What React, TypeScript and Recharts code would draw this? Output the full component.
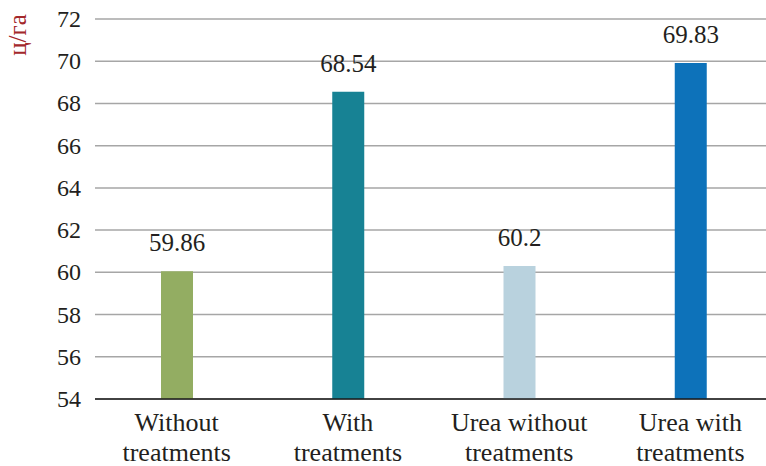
import React from 'react';
import { BarChart, Bar, XAxis, YAxis, CartesianGrid, Cell, LabelList } from 'recharts';

const categories = ['Without treatments', 'With treatments', 'Urea without treatments', 'Urea with treatments'];
const barValues = [60.05, 68.55, 60.3, 69.92];
const valueLabels = ['59.86', '68.54', '60.2', '69.83'];
const barColors = ['#93ad62', '#178294', '#b9d2de', '#0d72ba'];
const yTicks = [54, 56, 58, 60, 62, 64, 66, 68, 70, 72];
const yUnit = 'ц/га';

const data = categories.map((name, i) => ({ name, value: barValues[i], label: valueLabels[i] }));

const FONT = "'Liberation Serif', 'Times New Roman', serif";
const TEXT = '#231f20';

const CategoryTick = (props: any) => {
  const { x, y, payload } = props;
  const s: string = payload.value;
  const idx = s.lastIndexOf(' ');
  const lines = [s.slice(0, idx), s.slice(idx + 1)];
  return (
    <text x={x} y={y} textAnchor="middle" fill={TEXT} fontFamily={FONT} fontSize={26} style={{ fontFamily: FONT }}>
      {lines.map((l, i) => (
        <tspan key={i} x={x} y={y + 24 + i * 30}>{l}</tspan>
      ))}
    </text>
  );
};

const ValueTick = (props: any) => {
  const { x, y, payload } = props;
  return (
    <text x={x - 2} y={y + 8} textAnchor="end" fill={TEXT} fontFamily={FONT} fontSize={24} style={{ fontFamily: FONT }}>
      {payload.value}
    </text>
  );
};

const BarLabel = (props: any) => {
  const { x, y, width, value } = props;
  return (
    <text x={Number(x) + Number(width) / 2} y={Number(y) - 20} textAnchor="middle" fill={TEXT} fontFamily={FONT} fontSize={25} style={{ fontFamily: FONT }}>
      {value}
    </text>
  );
};

const UnitLabel = () => (
  <text
    x={26}
    y={35}
    transform="rotate(-90, 26, 35)"
    textAnchor="middle"
    fill="#a3282b"
    fontFamily={FONT}
    fontSize={25}
    style={{ fontFamily: FONT }}
  >
    {yUnit}
  </text>
);

export default function App() {
  return (
    <div style={{ position: 'fixed', left: 0, top: 0, width: 766, height: 466, overflow: 'hidden', background: '#fff', fontFamily: FONT }}>
      <BarChart
        width={780}
        height={466}
        data={data}
        margin={{ top: 19, right: 4, bottom: 0, left: 0 }}
        style={{ fontFamily: FONT }}
      >
        <CartesianGrid vertical={false} stroke="#a6a6a6" strokeWidth={1.5} />
        <XAxis
          dataKey="name"
          height={67}
          axisLine={{ stroke: '#1a1a1a', strokeWidth: 1.5 }}
          tickLine={false}
          tick={<CategoryTick />}
          interval={0}
          padding={{ left: -4, right: 0 }}
        />
        <YAxis
          width={95}
          domain={[54, 72]}
          ticks={yTicks}
          allowDataOverflow
          axisLine={false}
          tickLine={false}
          tickMargin={6}
          tick={<ValueTick />}
          label={<UnitLabel />}
        />
        <Bar dataKey="value" barSize={32} isAnimationActive={false}>
          {data.map((d, i) => (
            <Cell key={i} fill={barColors[i]} />
          ))}
          <LabelList dataKey="label" content={<BarLabel />} />
        </Bar>
      </BarChart>
    </div>
  );
}
